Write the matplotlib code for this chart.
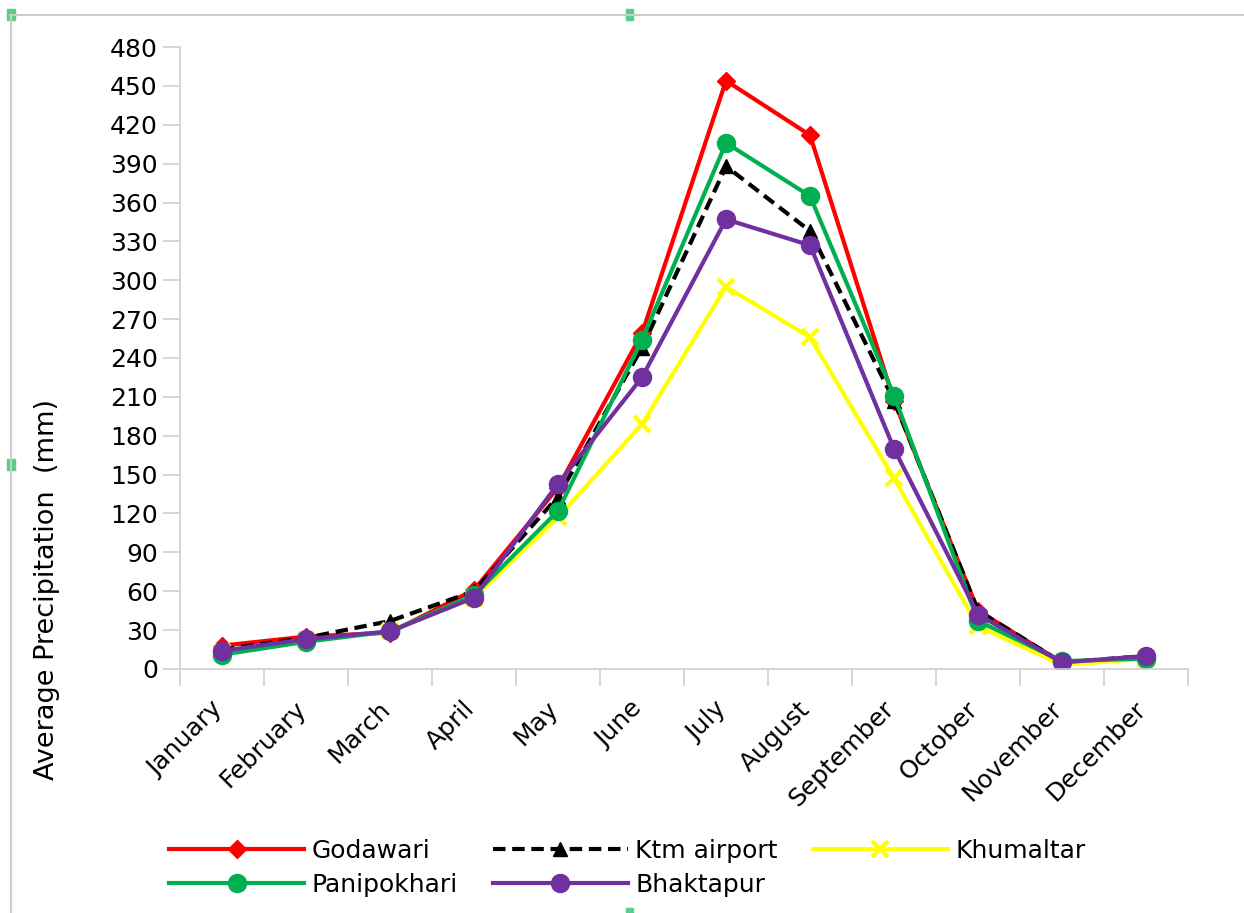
import numpy as np
import matplotlib.pyplot as plt
import matplotlib.transforms as mtransforms
from matplotlib.lines import Line2D
from matplotlib.patches import Rectangle

months = ["January", "February", "March", "April", "May", "June", "July",
          "August", "September", "October", "November", "December"]

godawari = [18, 25, 28, 61, 140, 259, 454, 412, 207, 45, 5, 9]
ktm_airport = [15, 24, 37, 60, 133, 248, 388, 338, 207, 45, 5, 10]
khumaltar = [13, 22, 29, 55, 117, 189, 295, 256, 147, 33, 3, 8]
panipokhari = [11, 21, 29, 57, 122, 254, 406, 365, 211, 37, 6, 8]
bhaktapur = [14, 23, 29, 55, 143, 225, 347, 327, 170, 42, 5, 10]

yticks = np.arange(0, 481, 30)

fig = plt.figure(figsize=(12.44, 9.13), dpi=100)
ax = fig.add_axes([0.1447, 0.2673, 0.8103, 0.6812])

x = np.arange(len(months))
ax.plot(x, godawari, color="#ff0000", lw=3, marker="D", ms=9, label="Godawari")
ax.plot(x, ktm_airport, color="black", lw=3, ls=(0, (3, 1.6)), marker="^", ms=10,
        label="Ktm airport")
ax.plot(x, khumaltar, color="#ffff00", lw=3, marker="x", ms=12, mew=3, label="Khumaltar")
ax.plot(x, panipokhari, color="#00b050", lw=3, marker="o", ms=13, label="Panipokhari")
ax.plot(x, bhaktapur, color="#7030a0", lw=3, marker="o", ms=13, label="Bhaktapur")

ax.set_xlim(-0.5, 11.5)
ax.set_ylim(0, 480)
ax.set_yticks(yticks)
ax.set_yticklabels([str(v) for v in yticks], fontsize=18)
ax.set_xticks(x)
ax.set_xticklabels(months, rotation=45, ha="right", rotation_mode="anchor", fontsize=18)
ax.set_xticks(np.arange(-0.5, 12, 1), minor=True)
ax.tick_params(axis="x", which="major", length=0, pad=20)
ax.tick_params(axis="x", which="minor", length=12, color="#d0d0d0", width=1.2)
ax.tick_params(axis="y", length=12, color="#d0d0d0", width=1.2, pad=4)
# nudge month labels a bit to the left
shift = mtransforms.ScaledTranslation(-12 / 100, 0, fig.dpi_scale_trans)
for lab in ax.get_xticklabels():
    lab.set_transform(lab.get_transform() + shift)

for s in ["top", "right"]:
    ax.spines[s].set_visible(False)
ax.spines["left"].set_color("#d0d0d0")
ax.spines["bottom"].set_color("#d0d0d0")
ax.spines["left"].set_linewidth(1.2)
ax.spines["bottom"].set_linewidth(1.2)

fig.text(0.038, 0.354, "Average Precipitation  (mm)", rotation=90, fontsize=19.5,
         ha="center", va="center")

handles, labels = ax.get_legend_handles_labels()
order = [0, 3, 1, 4, 2]
fig.legend([handles[i] for i in order], [labels[i] for i in order],
           loc="upper left", bbox_to_anchor=(0.128, 0.092), ncol=3, frameon=False,
           fontsize=18, handlelength=5.4, handletextpad=0.3, columnspacing=1.4,
           labelspacing=0.4, borderaxespad=0)

# screenshot frame
fig.add_artist(Line2D([0.008, 1.0], [0.984, 0.984], color="#cccccc", lw=1.5))
fig.add_artist(Line2D([0.009, 0.009], [0.0, 0.984], color="#cccccc", lw=1.5))
for (hx, hy) in [(0.009, 0.984), (0.506, 0.984), (0.009, 0.491), (0.506, 0.0)]:
    fig.add_artist(Rectangle((hx - 0.003, hy - 0.006), 0.006, 0.012, color="#55d08a"))

fig.savefig("out.png", dpi=100)
